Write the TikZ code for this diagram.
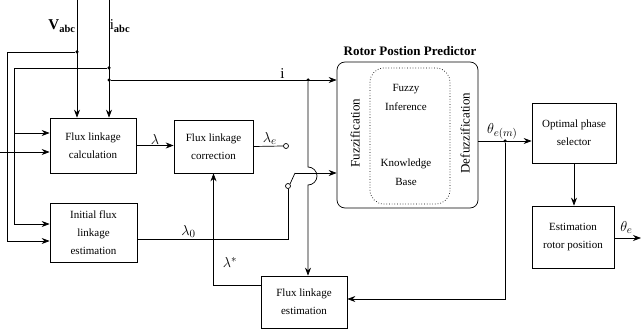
\documentclass[tikz,border=0pt]{standalone}
\usepackage{fontspec}
\setmainfont{Liberation Serif}
\usepackage{tikz}
\usetikzlibrary{positioning,arrows.meta}

\begin{document}
\begin{tikzpicture}[
  x=1pt, y=-1pt, line width=0.7pt,
  block/.style={
    draw, align=center, inner sep=2pt,
    font=\fontsize{11}{18}\selectfont
  },
  siglabel/.style={font=\fontsize{15}{16}\selectfont, inner sep=1pt},
  stage/.style={font=\fontsize{13}{14}\selectfont, rotate=90, inner sep=1pt},
  contact/.style={draw, circle, fill=white, inner sep=0pt, minimum size=5pt},
  arrow/.style={-{Stealth[length=8pt]}},
  junction/.style={circle, fill, inner sep=0pt, minimum size=3.5pt}
]
\useasboundingbox (0,0) rectangle (641,329);

% --- Bloki ---
\node[block, minimum width=86pt, minimum height=55pt] (calc) at (93,145.5)
  {Flux linkage\\calculation};
\node[block, minimum width=79pt, minimum height=53pt] (corr) at (213.5,146.5)
  {Flux linkage\\correction};
\node[block, minimum width=87pt, minimum height=59pt] (init) at (93.5,232.5)
  {Initial flux\\linkage\\estimation};
\node[block, minimum width=86pt, minimum height=52pt] (fest) at (304,302)
  {Flux linkage\\estimation};
\node[block, minimum width=84pt, minimum height=60pt] (phase) at (574,133)
  {Optimal phase\\selector};
\node[block, minimum width=82pt, minimum height=62pt] (rotor) at (573,237)
  {Estimation\\rotor position};

% --- Predyktor rozmyty ---
\node[draw, rounded corners=8pt, minimum width=141pt, minimum height=146pt] (pred) at (407.5,135) {};
\node[font=\fontsize{13}{14}\selectfont\bfseries] (predtitle) at (410,51) {Rotor Postion Predictor};
\draw[dotted, rounded corners=14pt] (370,68) rectangle (450,204);
\node[stage] (fuzz) at (355,133) {Fuzzification};
\node[stage] (defuzz) at (465,133) {Defuzzification};
\node[block, draw=none, font=\fontsize{11}{19}\selectfont] (infer) at (406,97) {Fuzzy\\Inference};
\node[block, draw=none, font=\fontsize{11}{19}\selectfont] (kbase) at (406,172) {Knowledge\\Base};

% --- Punkty pomocnicze ---
\coordinate (vtop) at (77,0);
\coordinate (itop) at (109,0);
\coordinate (leftin) at (0,152);
\coordinate (blade) at (295,173);
\coordinate (out) at (641,238);
\node[junction] (vdot) at (77,52) {};
\node[junction] (idota) at (109,68) {};
\node[junction] (idotb) at (109,80) {};
\node[junction] (idotc) at (308,80) {};
\node[junction] (tdot) at (505,141) {};
\node[contact] (swa) at (286,146) {};
\node[contact] (swb) at (288,186) {};

% --- Wejscia ---
\node[siglabel] (vlabel) at (62,26) {$\mathbf{V}_{\mathbf{abc}}$};
\node[siglabel] (ilabel) at (120,26) {$\mathrm{i}_{\mathbf{abc}}$};
\draw[arrow] (vtop) -- (vtop |- calc.north);
\draw[arrow] (itop) -- (itop |- calc.north);
\draw[arrow] (vdot) -- ++(-70,0) |- ([yshift=-8.5pt]init.west);
\draw[arrow] (idota) -- ++(-95,0) |- ([yshift=8.5pt]init.west);
\draw[arrow] (14,133) -- ([yshift=12.5pt]calc.west);
\draw[arrow] (leftin) -- ([yshift=-6.5pt]calc.west);

% --- Strzalki ---
\draw[arrow] (idotb) -- node[siglabel, above, pos=0.76] (isig) {i} ([yshift=55pt]pred.west);
\draw[arrow] (idotc) -- (308,167) arc[start angle=-90, end angle=90, radius=9]
  -- (idotc |- fest.north);
\draw[arrow] (calc.east) -- node[siglabel, above] (lsig) {$\lambda$} (calc.east -| corr.west);
\draw (corr.east) -- node[siglabel, above, pos=0.55] (lesig) {$\lambda_e$} (swa.west);
\draw (swb.north east) -- (blade);
\draw[arrow] (blade) -- ([yshift=-38pt]pred.west);
\draw ([yshift=-6.5pt]init.east) -| node[siglabel, above, pos=0.17] (l0sig) {$\lambda_0$} (swb.south);
\draw[arrow] ([yshift=17pt]fest.west) -| node[siglabel, pos=0.6, right=8pt] (lssig) {$\lambda^*$} (corr.south);
\draw[arrow] ([yshift=-6pt]pred.east) -- node[siglabel, above, pos=0.45] (tmsig) {$\theta_{e(m)}$} ([yshift=-8pt]phase.west);
\draw[arrow] (tdot) |- ([yshift=3pt]fest.east);
\draw[arrow] (phase.south) -- (phase.south |- rotor.north);
\draw[arrow] ([yshift=-1pt]rotor.east) -- node[siglabel, above=3pt, pos=0.45] (tesig) {$\theta_e$} (out);

\end{tikzpicture}
\end{document}
